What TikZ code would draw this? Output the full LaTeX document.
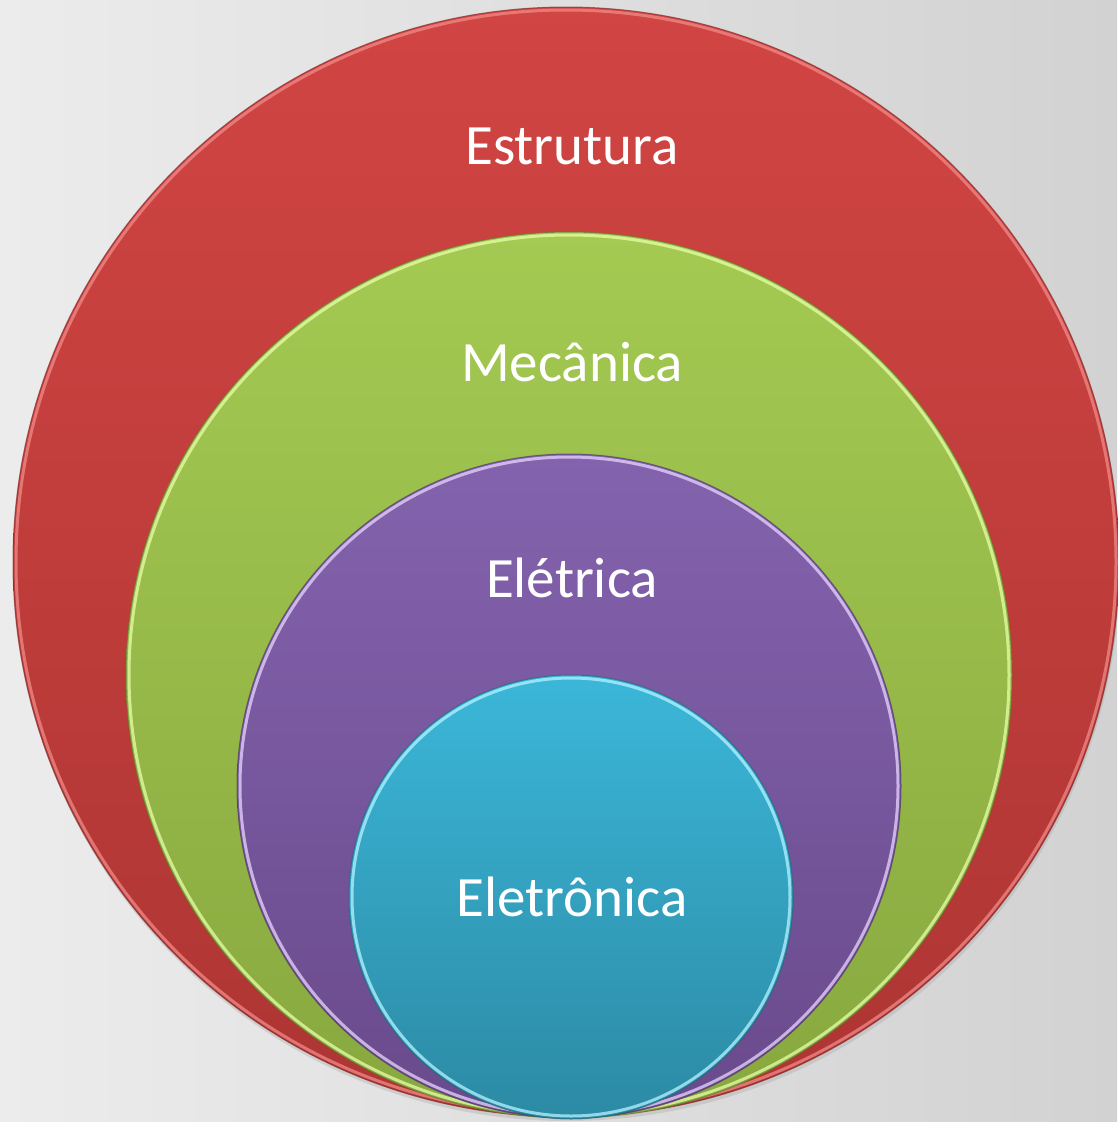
\documentclass[tikz,border=0pt]{standalone}
\usepackage{fontspec}
\setmainfont{Carlito}
\usetikzlibrary{shadings}
\definecolor{bgL}{HTML}{ECECEC}
\definecolor{bgR}{HTML}{D2D2D2}
\definecolor{redT}{HTML}{D14543}
\definecolor{redB}{HTML}{AD3533}
\definecolor{redE}{HTML}{F08A88}
\definecolor{grnT}{HTML}{A4CA52}
\definecolor{grnB}{HTML}{88A83F}
\definecolor{grnE}{HTML}{E6FFA8}
\definecolor{purT}{HTML}{8463AE}
\definecolor{purB}{HTML}{694A8B}
\definecolor{purE}{HTML}{E8D4FF}
\definecolor{cyaT}{HTML}{3BB7D9}
\definecolor{cyaB}{HTML}{2C8AA4}
\definecolor{cyaE}{HTML}{B4F4FF}
\tikzset{
  lbl/.style={text=white, font=\fontsize{57}{64}\selectfont, inner sep=0pt},
  rim/.style={line width=3pt, opacity=0.75},
  edge/.style={line width=1pt, opacity=0.6},
}
\begin{document}
\begin{tikzpicture}[x=1pt,y=-1pt]
\useasboundingbox (0,0) rectangle (1117,1122);
\shade[left color=bgL, right color=bgR] (0,0) rectangle (1117,1122);
% shadow
\fill[black!35, opacity=0.35] (567,566) ellipse [x radius=553pt, y radius=555pt];
% red
\shade[top color=redT, bottom color=redB] (566,562) ellipse [x radius=553pt, y radius=555pt];
\draw[redB!70!black, edge] (566,562) ellipse [x radius=553pt, y radius=555pt];
\draw[redE, rim] (566,562) ellipse [x radius=550pt, y radius=552pt];
% green
\shade[top color=grnT, bottom color=grnB] (569,675) circle [radius=443pt];
\draw[grnB!70!black, edge] (569,675) circle [radius=443pt];
\draw[grnE, rim] (569,675) circle [radius=440pt];
% purple
\shade[top color=purT, bottom color=purB] (569,786) circle [radius=332pt];
\draw[purB!70!black, edge] (569,786) circle [radius=332pt];
\draw[purE, rim] (569,786) circle [radius=329pt];
% cyan
\shade[top color=cyaT, bottom color=cyaB] (571,897) circle [radius=222pt];
\draw[cyaB!70!black, edge] (571,897) circle [radius=222pt];
\draw[cyaE, rim] (571,897) circle [radius=219pt];
% labels
\node[lbl] (est) at (572,146) {Estrutura};
\node[lbl] (mec) at (572,362) {Mecânica};
\node[lbl] (ele) at (572,578) {Elétrica};
\node[lbl] (etr) at (572,897) {Eletrônica};
\end{tikzpicture}
\end{document}
